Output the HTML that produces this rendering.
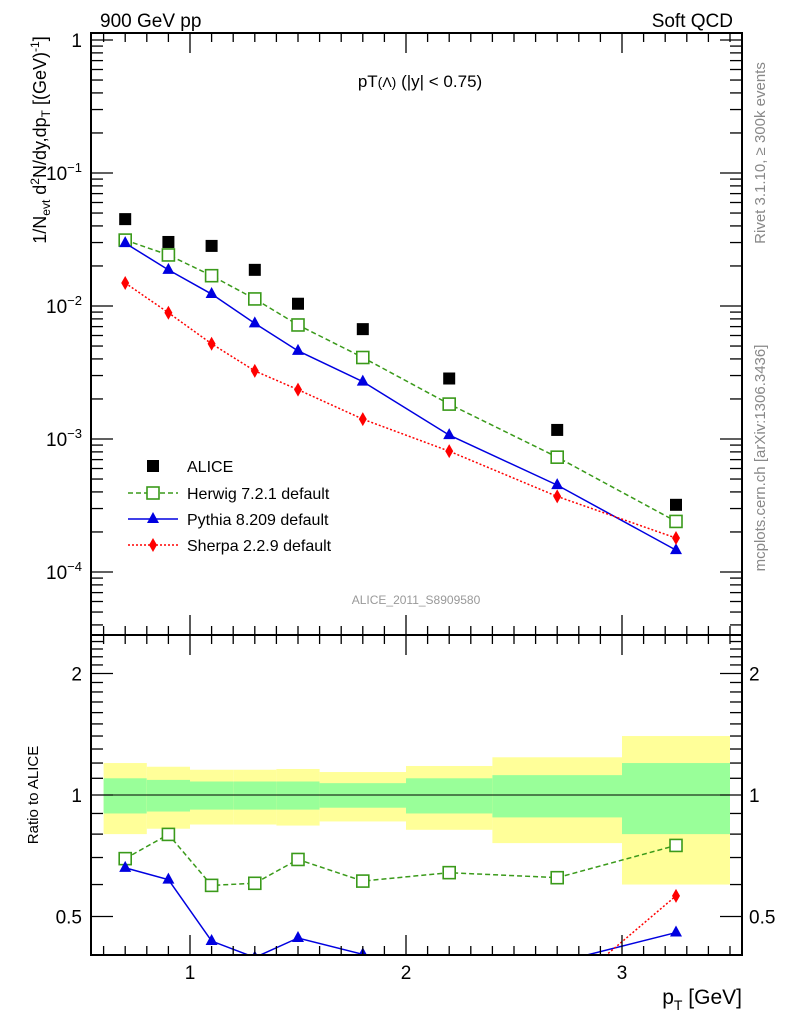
<!DOCTYPE html>
<html><head><meta charset="utf-8"><style>
html,body{margin:0;background:#fff;overflow:hidden;width:786px;height:1024px}
svg{display:block;font-family:"Liberation Sans",sans-serif}
</style></head><body>
<svg id="c" width="786" height="1024" viewBox="0 0 786 1024" xmlns="http://www.w3.org/2000/svg">
<defs>
<clipPath id="mainClip"><rect x="91" y="33" width="651" height="602"/></clipPath>
<clipPath id="ratioClip"><rect x="91" y="635" width="651" height="320"/></clipPath>
</defs>
<g id="bands" clip-path="url(#ratioClip)"></g>
<g id="marks"></g>
<g id="axes"></g>
<text x="100" y="27" font-size="19">900 GeV pp</text>
<text x="733" y="27" font-size="19" text-anchor="end">Soft QCD</text>
<text x="420" y="87" font-size="17" text-anchor="middle">pT<tspan font-size="14">(Λ)</tspan> (|y| &lt; 0.75)</text>
<text x="416" y="604" font-size="12" fill="#999" text-anchor="middle">ALICE_2011_S8909580</text>
<text transform="translate(765,153) rotate(-90)" font-size="15" fill="#888" text-anchor="middle">Rivet 3.1.10, ≥ 300k events</text>
<text transform="translate(765,458) rotate(-90)" font-size="15" fill="#888" text-anchor="middle">mcplots.cern.ch [arXiv:1306.3436]</text>
<text transform="translate(46,140) rotate(-90)" font-size="18" text-anchor="middle">1/N<tspan font-size="12" dy="4">evt</tspan><tspan dy="-4"> d</tspan><tspan font-size="12" dy="-7">2</tspan><tspan dy="7">N/dy,dp</tspan><tspan font-size="12" dy="4">T</tspan><tspan dy="-4"> [(GeV)</tspan><tspan font-size="12" dy="-7">-1</tspan><tspan dy="7">]</tspan></text>
<text transform="translate(38,795) rotate(-90)" font-size="15" text-anchor="middle">Ratio to ALICE</text>
<text x="742" y="1004" font-size="21" text-anchor="end">p<tspan font-size="14" dy="6">T</tspan><tspan dy="-6"> [GeV]</tspan></text>
<g id="legend">
<rect x="147" y="460" width="12" height="12" fill="#000"/>
<text x="187" y="472" font-size="16">ALICE</text>
<line x1="128" y1="493" x2="178" y2="493" stroke="#3a9a1a" stroke-width="1.5" stroke-dasharray="5,3"/>
<rect x="147" y="487" width="12" height="12" fill="#fff" stroke="#3a9a1a" stroke-width="1.6"/>
<text x="187" y="499" font-size="16">Herwig 7.2.1 default</text>
<line x1="128" y1="519" x2="178" y2="519" stroke="#0000e0" stroke-width="1.5"/>
<path d="M153,512 L159,523 L147,523 Z" fill="#0000e0"/>
<text x="187" y="525" font-size="16">Pythia 8.209 default</text>
<line x1="128" y1="545" x2="178" y2="545" stroke="#f00" stroke-width="1.5" stroke-dasharray="2,2"/>
<path d="M153,538 L157,545 L153,552 L149,545 Z" fill="#f00"/>
<text x="187" y="551" font-size="16">Sherpa 2.2.9 default</text>
</g>
</svg>
<script>
const pt = [0.7,0.9,1.1,1.3,1.5,1.8,2.2,2.7,3.25];
const binLo = [0.6,0.8,1.0,1.2,1.4,1.6,2.0,2.4,3.0];
const binHi = [0.8,1.0,1.2,1.4,1.6,2.0,2.4,3.0,3.5];
const alice = [0.045,0.0303,0.0283,0.0187,0.0104,0.0067,0.00285,0.00117,0.00032];
const aliceStatErr = [0.10,0.09,0.08,0.08,0.08,0.07,0.10,0.12,0.20];
const aliceTotErr = [0.20,0.175,0.155,0.155,0.16,0.14,0.18,0.24,0.40];
const herwig = [0.0313,0.0242,0.0169,0.0113,0.0072,0.0041,0.00183,0.00073,0.00024];
const pythia = [0.0297,0.0187,0.0123,0.0074,0.0046,0.0027,0.00107,0.00045,0.000146];
const sherpa = [0.0149,0.0089,0.0052,0.00325,0.00235,0.00141,0.00081,0.00037,0.00018];
const xTicks = [1,2,3];
const yTicksMain = [0,-1,-2,-3,-4];
const yTicksRatio = [0.5,1,2];

const NS="http://www.w3.org/2000/svg";
const X = v => 190 + (v-1)*216;
const Y = v => 40 - Math.log10(v)*133;
const R = v => 795 - Math.log2(v)*121.5;
function mk(tag, attrs, parent){const e=document.createElementNS(NS,tag);for(const k in attrs)e.setAttribute(k,attrs[k]);parent.appendChild(e);return e;}
const axes=document.getElementById('axes');
const bands=document.getElementById('bands');
const marks=document.getElementById('marks');

for(let i=0;i<pt.length;i++){
  const x1=X(binLo[i]), x2=X(binHi[i]);
  const y=mk('rect',{x:x1,y:R(1+aliceTotErr[i]),width:x2-x1,height:R(1-aliceTotErr[i])-R(1+aliceTotErr[i]),fill:'#ffff99'},bands);
  
  
  const g=mk('rect',{x:x1,y:R(1+aliceStatErr[i]),width:x2-x1,height:R(1-aliceStatErr[i])-R(1+aliceStatErr[i]),fill:'#99ff99'},bands);
  
  
}
const one=mk('line',{x1:91,x2:742,y1:R(1),y2:R(1),stroke:'#000','stroke-width':1},bands);



function series(vals, color, dash, marker, name, ratio){
  const g=mk('g',{'clip-path':ratio?'url(#ratioClip)':'url(#mainClip)'},marks);
  
  
  const yf = ratio ? (i=>R(vals[i]/alice[i])) : (i=>Y(vals[i]));
  if(color){
    const pts=pt.map((p,i)=>X(p)+','+yf(i)).join(' ');
    const l=mk('polyline',{points:pts,fill:'none',stroke:color,'stroke-width':1.5},g);
    if(dash) l.setAttribute('stroke-dasharray',dash);
    
    
  }
  pt.forEach((p,i)=>{
    const x=X(p), y=yf(i); let m;
    if(marker==='fsq'){m=mk('rect',{x:x-6,y:y-6,width:12,height:12,fill:'#000'},g);}
    else if(marker==='osq'){m=mk('rect',{x:x-6,y:y-6,width:12,height:12,fill:'#fff',stroke:color,'stroke-width':1.6},g);}
    else if(marker==='tri'){m=mk('path',{d:`M${x},${y-7} L${x+6},${y+4} L${x-6},${y+4} Z`,fill:color},g);}
    else {m=mk('path',{d:`M${x},${y-7} L${x+4},${y} L${x},${y+7} L${x-4},${y} Z`,fill:color},g);}
    
    
  });
}
series(alice,null,null,'fsq','alice',false);
series(herwig,'#3a9a1a','5,3','osq','herwig',false);
series(pythia,'#0000e0',null,'tri','pythia',false);
series(sherpa,'#f00','2,2','dia','sherpa',false);
series(herwig,'#3a9a1a','5,3','osq','herwig',true);
series(pythia,'#0000e0',null,'tri','pythia',true);
series(sherpa,'#f00','2,2','dia','sherpa',true);

mk('rect',{x:91,y:33,width:651,height:602,fill:'none',stroke:'#000','stroke-width':2},axes);
mk('rect',{x:91,y:635,width:651,height:320,fill:'none',stroke:'#000','stroke-width':2},axes);
function tk(x1,y1,x2,y2){mk('line',{x1,y1,x2,y2,stroke:'#000','stroke-width':1.3},axes);}
for(let v=0.6;v<=3.5001;v+=0.1){
  const x=X(v); const maj=Math.abs(v-Math.round(v))<0.01; const L=maj?20:9;
  tk(x,33,x,33+L); tk(x,635,x,635-L); tk(x,635,x,635+L); tk(x,955,x,955-L);
}
xTicks.forEach(v=>{const t=mk('text',{x:X(v),y:979,'font-size':19,'text-anchor':'middle'},axes);t.textContent=v;
 
 });
for(let d=-5;d<=0;d++){for(let k=1;k<=9;k++){const v=k*Math.pow(10,d);const y=Y(v);if(y<33||y>635)continue;
 const L=k===1?22:12; tk(91,y,91+L,y); tk(742,y,742-L,y);}}
yTicksMain.forEach(e=>{const y=Y(Math.pow(10,e));const t=mk('text',{x:82,y:y+7,'font-size':19,'text-anchor':'end'},axes);
 if(e===0){t.textContent='1';}else{t.textContent='10';const s=mk('tspan',{'font-size':13,dy:-8},t);s.textContent='−'+(-e);}
 
 });
for(let v=0.4;v<=2.5001;v+=0.1){const y=R(v);if(y<635||y>955)continue;
 const maj=[0.5,1,2].some(m=>Math.abs(m-v)<0.01);const L=maj?22:12; tk(91,y,91+L,y); tk(742,y,742-L,y);}
yTicksRatio.forEach(v=>{const y=R(v);
 const t=mk('text',{x:82,y:y+7,'font-size':19,'text-anchor':'end'},axes);t.textContent=v;
 
 
 const t2=mk('text',{x:749,y:y+7,'font-size':19},axes);t2.textContent=v;
 
 });
</script>
</body></html>
